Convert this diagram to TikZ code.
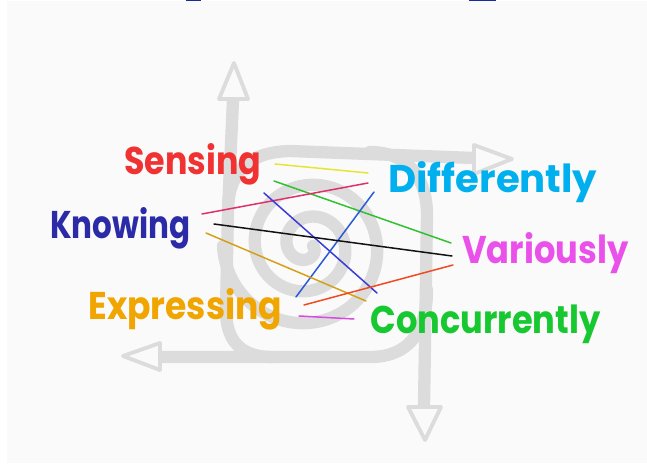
\documentclass[tikz,border=0pt]{standalone}
\usepackage{fontspec}
\setmainfont{Poppins}
\usepackage{graphicx}
\newlength\pxu
\setlength\pxu{0.02cm}
\newcommand\fitw[2]{\resizebox{#1\pxu}{\height}{#2}}
\definecolor{bgc}{HTML}{FAFAFA}
\definecolor{spir}{HTML}{DCDCDC}
\definecolor{titleblue}{HTML}{1A2A9A}
\definecolor{cSens}{HTML}{F03232}
\definecolor{cDiff}{HTML}{00B0EE}
\definecolor{cKnow}{HTML}{2B2BA8}
\definecolor{cVar}{HTML}{EA50EA}
\definecolor{cExp}{HTML}{F0A500}
\definecolor{cConc}{HTML}{18C830}
\definecolor{lYel}{HTML}{E6E632}
\definecolor{lGrn}{HTML}{30C030}
\definecolor{lPink}{HTML}{E0306A}
\definecolor{lBlueA}{HTML}{3A3AD8}
\definecolor{lBlueB}{HTML}{2A5AD8}
\definecolor{lBlk}{HTML}{111111}
\definecolor{lGold}{HTML}{D4A017}
\definecolor{lOr}{HTML}{F04A20}
\definecolor{lMag}{HTML}{D84AE0}
\begin{document}
\begin{tikzpicture}[x=0.02cm,y=-0.02cm,
  band/.style={draw=spir, line width=7pt, line cap=round, line join=round},
  head/.style={draw=spir, fill=bgc, line width=2.2pt, line join=round},
  thinline/.style={line width=0.85pt, line cap=round},
  lbl/.style={anchor=base west, inner sep=0pt, font=\fontsize{22}{26}\selectfont\bfseries}]
\useasboundingbox (0,0) rectangle (647,466);
\fill[white] (0,0) rectangle (647,466);
\fill[bgc] (7,1) rectangle (647,463);
\fill[titleblue] (186,0) rectangle (201,1.5);
\fill[titleblue] (469,0) rectangle (496,1.5);
% spiral
\draw[band] plot[domain=0:900, samples=260, smooth, variable=\t]
  ({308+(5+\t/11.25)*cos(\t)}, {246+(5+\t/11.25)*sin(\t)});
% pinwheel arms
\draw[band] (272,357) .. controls (240,357) and (226,340) .. (226,310) -- (228,210) -- (233,100);
\draw[band] (228,205) .. controls (231,170) and (250,152) .. (290,151) -- (474,158);
\draw[band] (370,152) .. controls (405,152) and (427,175) .. (427,215) -- (424,407);
\draw[band] (427,290) .. controls (427,330) and (410,357) .. (370,357) -- (160,357);
% heads
\draw[head] (234,63) -- (248,99) -- (219,99) -- cycle;
\draw[head] (512,159) -- (474,174) -- (474,145) -- cycle;
\draw[head] (425,440) -- (408,407) -- (441,407) -- cycle;
\draw[head] (123,356) -- (160,343) -- (160,370) -- cycle;
% coloured lines
\draw[thinline, lYel] (275,164) -- (368,173);
\draw[thinline, lGrn] (274,181) -- (451,243);
\draw[thinline, lPink] (202,214) -- (368,183);
\draw[thinline, lBlueA] (264,193) -- (377,293);
\draw[thinline, lBlueB] (296,297) -- (374,192);
\draw[thinline, lBlk] (214,224) -- (452,256);
\draw[thinline, lGold] (206,233) -- (366,301);
\draw[thinline, lOr] (304,305) -- (453,265);
\draw[thinline, lMag] (299,316) -- (354,319);
% labels
\node[lbl, text=cSens] (sensing) at (124,174) {\fitw{137}{Sensing}};
\node[lbl, text=cDiff] (differently) at (388,193) {\fitw{209}{Differently}};
\node[lbl, text=cKnow] (knowing) at (50,239) {\fitw{140}{Knowing}};
\node[lbl, text=cVar] (variously) at (462,264) {\fitw{166}{Variously}};
\node[lbl, text=cExp] (expressing) at (88,319) {\fitw{194}{Expressing}};
\node[lbl, text=cConc] (concurrently) at (370,334) {\fitw{230}{Concurrently}};
\end{tikzpicture}
\end{document}
